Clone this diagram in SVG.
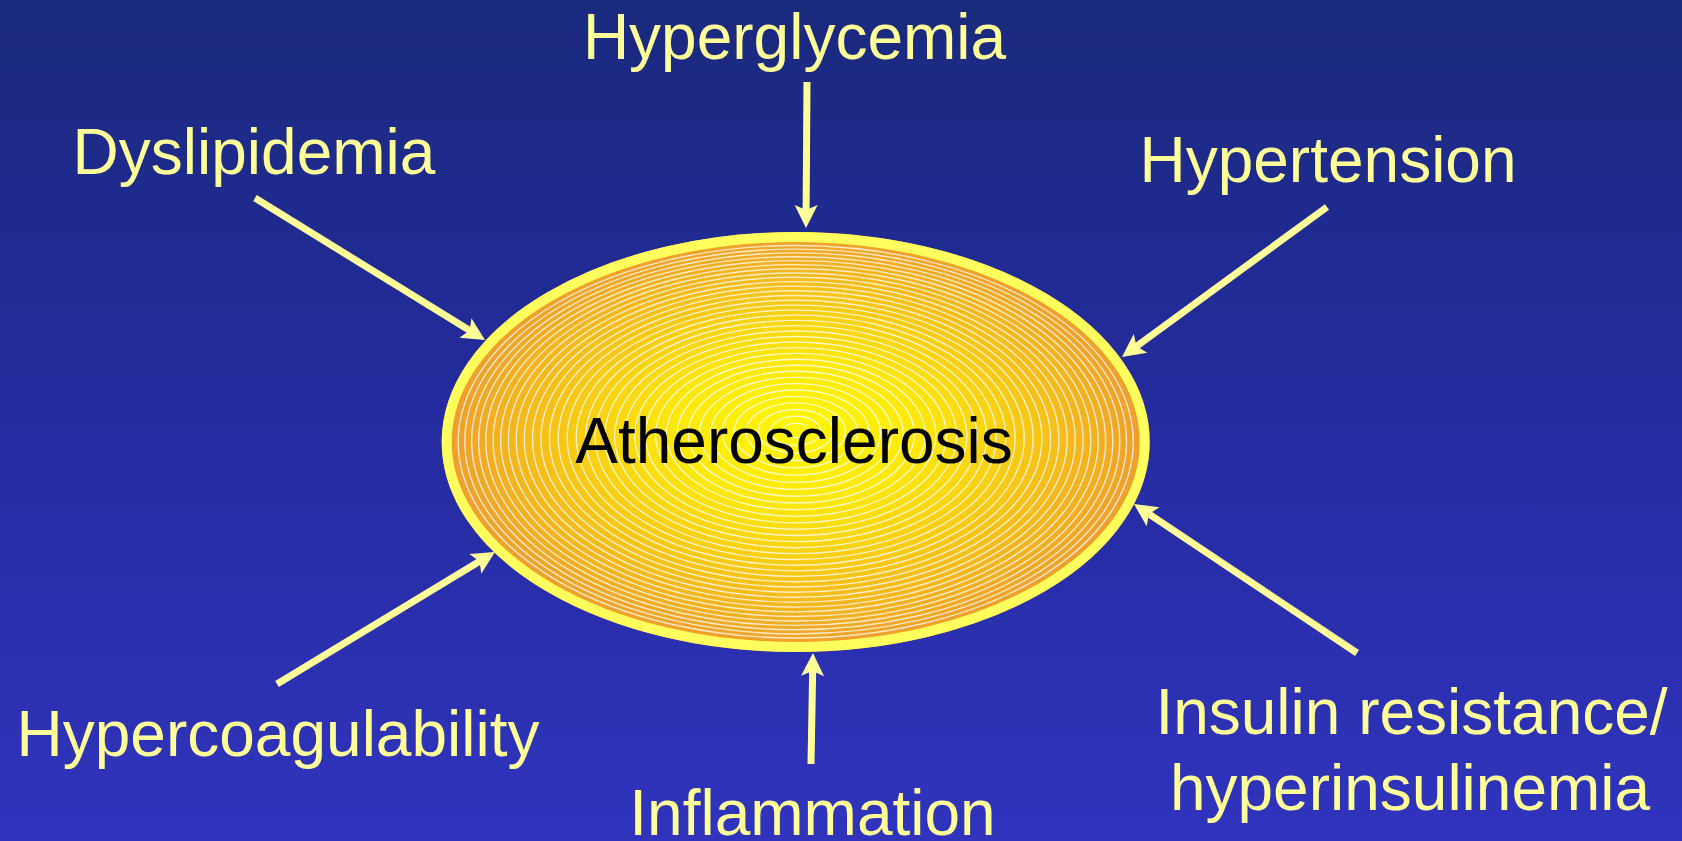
<svg xmlns="http://www.w3.org/2000/svg" width="1682" height="841" viewBox="0 0 1682 841">
  <defs>
    <linearGradient id="bg" x1="0" y1="0" x2="0" y2="1">
      <stop offset="0" stop-color="#1a2a7d"/>
      <stop offset="0.5" stop-color="#242b9f"/>
      <stop offset="1" stop-color="#3034bd"/>
    </linearGradient>
    <radialGradient id="core" cx="0.5" cy="0.5" r="0.5" fx="0.5" fy="0.46">
      <stop offset="0" stop-color="#fff700"/>
      <stop offset="0.35" stop-color="#fde80a"/>
      <stop offset="0.65" stop-color="#f8c815"/>
      <stop offset="0.85" stop-color="#f3b020"/>
      <stop offset="1" stop-color="#ee9a30"/>
    </radialGradient>
    <marker id="ah" viewBox="-10 -14 30 28" markerWidth="30" markerHeight="28" markerUnits="userSpaceOnUse" refX="0" refY="0" orient="auto" overflow="visible">
      <path d="M16,0 L-7,-11.5 L-2,0 L-7,11.5 Z" fill="#ffff99"/>
    </marker>
  </defs>
  <style>
    .lbl { font-family: "Liberation Sans", Arial, sans-serif; font-size: 64px; fill: #ffff99; text-anchor: middle; }
    .ctr { font-family: "Liberation Sans", Arial, sans-serif; font-size: 64px; fill: #000000; text-anchor: middle; }
    .arr { stroke: #ffff99; stroke-width: 7; fill: none; marker-end: url(#ah); }
    .ring { fill: none; stroke: #ffffff; stroke-opacity: 0.75; stroke-width: 1.4; }
  </style>

  <rect x="0" y="0" width="1682" height="841" fill="url(#bg)"/>

  <g id="node-atherosclerosis">
    <ellipse cx="795.7" cy="442" rx="354" ry="210" fill="url(#core)"/>
    <g class="ring">
      <ellipse cx="795.7" cy="430.44" rx="12.65" ry="7.36"/>
      <ellipse cx="795.7" cy="430.88" rx="25.13" ry="14.61"/>
      <ellipse cx="795.7" cy="431.31" rx="37.43" ry="21.76"/>
      <ellipse cx="795.7" cy="431.73" rx="49.55" ry="28.81"/>
      <ellipse cx="795.7" cy="432.15" rx="61.49" ry="35.75"/>
      <ellipse cx="795.7" cy="432.56" rx="73.26" ry="42.59"/>
      <ellipse cx="795.7" cy="432.96" rx="84.85" ry="49.33"/>
      <ellipse cx="795.7" cy="433.36" rx="96.27" ry="55.97"/>
      <ellipse cx="795.7" cy="433.75" rx="107.5" ry="62.5"/>
      <ellipse cx="795.7" cy="434.14" rx="118.56" ry="68.93"/>
      <ellipse cx="795.7" cy="434.52" rx="129.44" ry="75.26"/>
      <ellipse cx="795.7" cy="434.89" rx="140.15" ry="81.48"/>
      <ellipse cx="795.7" cy="435.26" rx="150.68" ry="87.6"/>
      <ellipse cx="795.7" cy="435.62" rx="161.03" ry="93.62"/>
      <ellipse cx="795.7" cy="435.97" rx="171.21" ry="99.54"/>
      <ellipse cx="795.7" cy="436.32" rx="181.2" ry="105.35"/>
      <ellipse cx="795.7" cy="436.66" rx="191.02" ry="111.06"/>
      <ellipse cx="795.7" cy="437" rx="200.67" ry="116.67"/>
      <ellipse cx="795.7" cy="437.33" rx="210.13" ry="122.17"/>
      <ellipse cx="795.7" cy="437.65" rx="219.42" ry="127.57"/>
      <ellipse cx="795.7" cy="437.97" rx="228.54" ry="132.87"/>
      <ellipse cx="795.7" cy="438.28" rx="237.47" ry="138.07"/>
      <ellipse cx="795.7" cy="438.59" rx="246.23" ry="143.16"/>
      <ellipse cx="795.7" cy="438.89" rx="254.81" ry="148.15"/>
      <ellipse cx="795.7" cy="439.18" rx="263.22" ry="153.04"/>
      <ellipse cx="795.7" cy="439.47" rx="271.45" ry="157.82"/>
      <ellipse cx="795.7" cy="439.75" rx="279.5" ry="162.5"/>
      <ellipse cx="795.7" cy="440.02" rx="287.37" ry="167.08"/>
      <ellipse cx="795.7" cy="440.29" rx="295.07" ry="171.55"/>
      <ellipse cx="795.7" cy="440.56" rx="302.59" ry="175.93"/>
      <ellipse cx="795.7" cy="440.81" rx="309.93" ry="180.19"/>
      <ellipse cx="795.7" cy="441.06" rx="317.1" ry="184.36"/>
      <ellipse cx="795.7" cy="441.31" rx="324.09" ry="188.43"/>
      <ellipse cx="795.7" cy="441.54" rx="330.9" ry="192.39"/>
      <ellipse cx="795.7" cy="441.77" rx="337.54" ry="196.24"/>
    </g>
    <ellipse cx="795.7" cy="442" rx="349" ry="205" fill="none" stroke="#ffff5e" stroke-width="10"/>
    <text class="ctr" x="794" y="463">Atherosclerosis</text>
  </g>

  <g id="node-hyperglycemia"><text class="lbl" x="794.5" y="59">Hyperglycemia</text></g>
  <g id="node-dyslipidemia"><text class="lbl" x="254" y="174">Dyslipidemia</text></g>
  <g id="node-hypertension"><text class="lbl" x="1328" y="182">Hypertension</text></g>
  <g id="node-hypercoagulability"><text class="lbl" x="278" y="756">Hypercoagulability</text></g>
  <g id="node-inflammation"><text class="lbl" x="812.5" y="835">Inflammation</text></g>
  <g id="node-insulin">
    <text class="lbl" x="1411.5" y="734">Insulin resistance/</text>
    <text class="lbl" x="1410" y="810">hyperinsulinemia</text>
  </g>

  <g id="connectors">
    <line class="arr" x1="807" y1="82" x2="806.1" y2="212"/>
    <line class="arr" x1="255" y1="198" x2="471.4" y2="331.6"/>
    <line class="arr" x1="1327" y1="207" x2="1134.9" y2="347.5"/>
    <line class="arr" x1="1357" y1="653" x2="1147.3" y2="512.9"/>
    <line class="arr" x1="811" y1="764" x2="812.7" y2="669"/>
    <line class="arr" x1="277" y1="684" x2="481.3" y2="560.3"/>
  </g>
</svg>
